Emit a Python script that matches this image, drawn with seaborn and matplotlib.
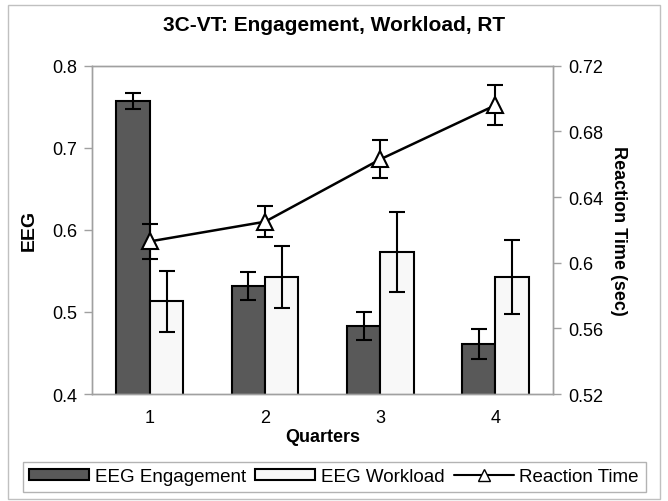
import numpy as np
import pandas as pd
import matplotlib
matplotlib.use("Agg")
import matplotlib.pyplot as plt
import seaborn as sns
from matplotlib.lines import Line2D
from matplotlib.patches import Patch, Rectangle

quarters = ["1", "2", "3", "4"]
engagement = [0.757, 0.532, 0.483, 0.461]
engagement_err = [0.010, 0.017, 0.017, 0.018]
workload = [0.513, 0.543, 0.573, 0.543]
workload_err = [0.037, 0.038, 0.049, 0.045]
rt = [0.613, 0.625, 0.663, 0.696]
rt_err = [0.0105, 0.0095, 0.0115, 0.012]

df = pd.DataFrame({
    "Quarter": quarters * 2,
    "Series": ["EEG Engagement"] * 4 + ["EEG Workload"] * 4,
    "EEG": engagement + workload,
    "err": engagement_err + workload_err,
})

sns.set_theme(style="white")
plt.rcParams["font.family"] = ["Liberation Sans", "DejaVu Sans"]
plt.rcParams["text.color"] = "black"
plt.rcParams["axes.labelcolor"] = "black"
plt.rcParams["xtick.labelcolor"] = "black"
plt.rcParams["ytick.labelcolor"] = "black"

fig = plt.figure(figsize=(6.68, 5.02), dpi=100)
ax = fig.add_axes([0.138, 0.213, 0.690, 0.654])

palette = {"EEG Engagement": "#595959", "EEG Workload": "#f8f8f8"}
sns.barplot(data=df, x="Quarter", y="EEG", hue="Series", palette=palette,
            width=0.58, edgecolor="black", linewidth=1.5, saturation=1,
            errorbar=None, legend=False, ax=ax)

# error bars on bar centers
bars = [p for p in ax.patches if p.get_height() > 0]
bars = sorted(bars, key=lambda p: (p.get_facecolor()[0] > 0.5, p.get_x()))
errs = engagement_err + workload_err
for p, e in zip(bars, errs):
    cx = p.get_x() + p.get_width() / 2
    ax.errorbar(cx, p.get_height(), yerr=e, color="black", capsize=6,
                elinewidth=1.5, capthick=1.5, fmt="none", zorder=5)

ax.set_ylim(0.4, 0.8)
ax.set_xlim(-0.5, 3.5)
ax.set_yticks([0.4, 0.5, 0.6, 0.7, 0.8])
ax.set_yticklabels(["0.4", "0.5", "0.6", "0.7", "0.8"], fontsize=13)
ax.set_xticks([0, 1, 2, 3])
ax.set_xticklabels(quarters, fontsize=13)
ax.set_xticks([0.5, 1.5, 2.5], minor=True)
ax.tick_params(axis="x", which="major", length=0, pad=11)
ax.tick_params(axis="x", which="minor", length=10, direction="inout", color="#a0a0a0", width=1)
ax.tick_params(axis="y", length=6, color="#a0a0a0", width=1, direction="out", left=True, pad=5)
ax.set_xlabel("Quarters", fontsize=13, fontweight="bold", labelpad=1)
ax.set_ylabel("EEG", fontsize=14, fontweight="bold", labelpad=10)
for s in ax.spines.values():
    s.set_color("#a0a0a0")
    s.set_linewidth(1)

ax2 = ax.twinx()
rt_df = pd.DataFrame({"x": np.arange(len(quarters)), "RT": rt})
sns.lineplot(data=rt_df, x="x", y="RT", color="black", linewidth=1.8,
             marker="^", markersize=12, markerfacecolor="white",
             markeredgecolor="black", markeredgewidth=1.5, ax=ax2, zorder=6)
ax2.errorbar(rt_df["x"], rt, yerr=rt_err, fmt="none", color="black",
             capsize=6, elinewidth=1.5, capthick=1.5, zorder=5)
ax2.set_ylim(0.52, 0.72)
ax2.set_yticks([0.52, 0.56, 0.6, 0.64, 0.68, 0.72])
ax2.set_yticklabels(["0.52", "0.56", "0.6", "0.64", "0.68", "0.72"], fontsize=13)
ax2.tick_params(axis="y", length=6, color="#a0a0a0", width=1, direction="out", right=True, pad=5)
ax2.set_ylabel("Reaction Time (sec)", fontsize=13, fontweight="bold",
               rotation=270, labelpad=17)
ax2.set_xlabel("")
for s in ax2.spines.values():
    s.set_color("#a0a0a0")
    s.set_linewidth(1)

fig.suptitle("3C-VT: Engagement, Workload, RT", fontsize=15, fontweight="bold", y=0.968)

handles = [
    Patch(facecolor="#595959", edgecolor="black", linewidth=1.5, label="EEG Engagement"),
    Patch(facecolor="#f8f8f8", edgecolor="black", linewidth=1.5, label="EEG Workload"),
    Line2D([], [], color="black", marker="^", markersize=9, markerfacecolor="white",
           markeredgecolor="black", linewidth=1.5, label="Reaction Time"),
]
leg = fig.legend(handles=handles, loc="lower center", bbox_to_anchor=(0.5, 0.0),
                 ncol=3, fontsize=13.5, frameon=True, fancybox=False,
                 handlelength=3.2, handleheight=0.6, handletextpad=0.3,
                 columnspacing=0.5, borderpad=0.35)
leg.get_frame().set_edgecolor("#a0a0a0")
leg.get_frame().set_linewidth(1)

fig.patches.append(Rectangle((0.012, 0.004), 0.976, 0.985, transform=fig.transFigure,
                             fill=False, edgecolor="#c0c0c0", linewidth=1))

fig.savefig("out.png", dpi=100)
